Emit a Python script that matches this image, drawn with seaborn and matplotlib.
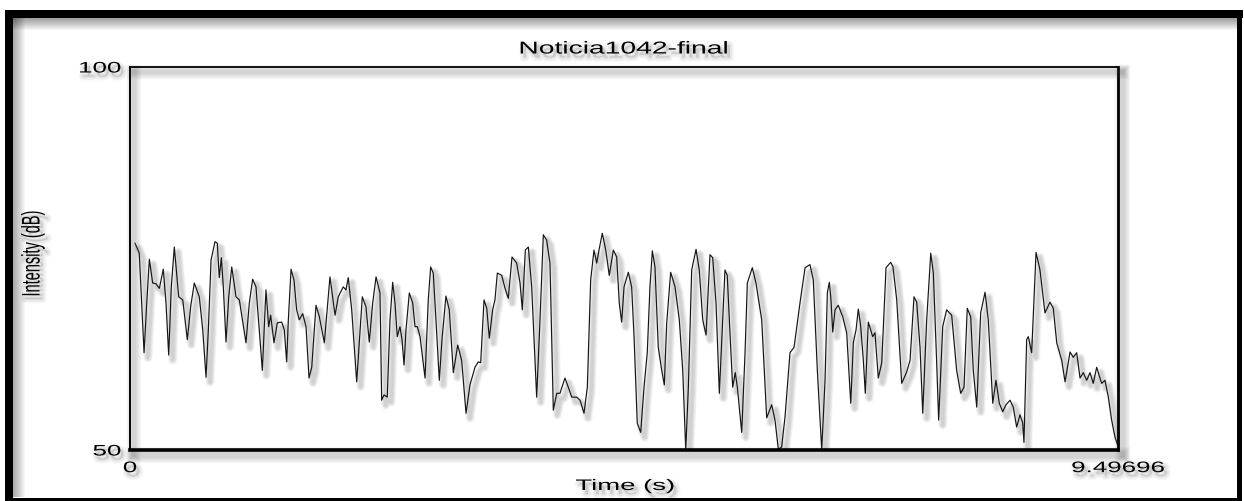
import matplotlib
matplotlib.use("Agg")
import matplotlib.pyplot as plt
import seaborn as sns
from matplotlib.patches import Rectangle
from matplotlib.patheffects import AbstractPathEffect
from matplotlib.transforms import Affine2D

# Intensity contour of the recording
time_s = [
    0.048, 0.089, 0.135, 0.161, 0.186, 0.218, 0.250, 0.282, 0.320, 0.346,
    0.372, 0.397, 0.426, 0.468, 0.507, 0.551, 0.583, 0.618, 0.666, 0.699,
    0.731, 0.753, 0.779, 0.817, 0.839, 0.858, 0.878, 0.897, 0.923, 0.949,
    0.978, 1.019, 1.051, 1.115, 1.147, 1.179, 1.211, 1.233, 1.272, 1.307,
    1.333, 1.352, 1.384, 1.416, 1.458, 1.483, 1.506, 1.522, 1.548, 1.576,
    1.602, 1.627, 1.660, 1.692, 1.721, 1.747, 1.788, 1.820, 1.868, 1.922,
    1.971, 2.002, 2.050, 2.076, 2.098, 2.131, 2.179, 2.233, 2.268, 2.300,
    2.333, 2.365, 2.403, 2.419, 2.442, 2.473, 2.499, 2.525, 2.547, 2.569,
    2.595, 2.615, 2.634, 2.653, 2.685, 2.717, 2.740, 2.762, 2.788, 2.836,
    2.867, 2.890, 2.915, 2.941, 2.973, 2.999, 3.037, 3.069, 3.108, 3.150,
    3.188, 3.230, 3.268, 3.316, 3.348, 3.371, 3.403, 3.429, 3.454, 3.486,
    3.508, 3.531, 3.573, 3.605, 3.636, 3.672, 3.717, 3.749, 3.771, 3.800,
    3.829, 3.861, 3.909, 3.941, 3.973, 4.005, 4.037, 4.069, 4.102, 4.133,
    4.181, 4.213, 4.246, 4.294, 4.326, 4.364, 4.396, 4.428, 4.460, 4.486,
    4.508, 4.540, 4.573, 4.607, 4.646, 4.678, 4.703, 4.726, 4.749, 4.790,
    4.822, 4.845, 4.876, 4.909, 4.941, 4.972, 4.998, 5.021, 5.046, 5.078,
    5.111, 5.136, 5.159, 5.197, 5.239, 5.280, 5.313, 5.342, 5.367, 5.399,
    5.441, 5.472, 5.505, 5.537, 5.575, 5.601, 5.633, 5.665, 5.697, 5.719,
    5.741, 5.767, 5.793, 5.818, 5.838, 5.880, 5.912, 5.934, 5.982, 6.017,
    6.072, 6.120, 6.168, 6.200, 6.232, 6.264, 6.296, 6.344, 6.383, 6.440,
    6.489, 6.536, 6.568, 6.607, 6.649, 6.681, 6.703, 6.722, 6.738, 6.755,
    6.777, 6.808, 6.851, 6.889, 6.928, 6.953, 6.979, 7.001, 7.024, 7.049,
    7.068, 7.097, 7.139, 7.161, 7.193, 7.226, 7.267, 7.312, 7.334, 7.370,
    7.418, 7.466, 7.498, 7.536, 7.562, 7.594, 7.620, 7.658, 7.697, 7.722,
    7.754, 7.773, 7.812, 7.850, 7.898, 7.946, 7.985, 8.017, 8.048, 8.081,
    8.106, 8.139, 8.177, 8.219, 8.250, 8.293, 8.324, 8.356, 8.389, 8.420,
    8.459, 8.490, 8.523, 8.555, 8.581, 8.593, 8.619, 8.635, 8.667, 8.709,
    8.747, 8.795, 8.843, 8.875, 8.908, 8.956, 8.988, 9.036, 9.067, 9.100,
    9.132, 9.163, 9.196, 9.228, 9.259, 9.292, 9.314, 9.340, 9.372, 9.404,
    9.436, 9.468, 9.492,
]
intensity_db = [
    77.0, 75.7, 62.7, 69.2, 74.9, 71.8, 71.7, 71.1, 73.6, 69.2,
    62.4, 71.3, 76.5, 70.0, 69.6, 64.4, 68.7, 71.8, 70.0, 65.7,
    59.5, 65.7, 74.8, 77.2, 77.0, 72.5, 75.1, 71.3, 64.1, 70.0,
    73.9, 70.0, 69.6, 64.0, 69.2, 72.3, 71.3, 67.4, 60.4, 70.9,
    66.1, 67.6, 64.0, 66.6, 66.7, 65.7, 61.5, 67.0, 73.6, 72.2,
    68.3, 67.0, 67.8, 66.1, 59.4, 60.8, 68.9, 67.4, 64.0, 72.6,
    67.6, 70.0, 71.3, 70.9, 72.5, 68.3, 58.9, 70.0, 68.7, 64.1,
    69.2, 72.6, 70.5, 56.5, 57.2, 56.9, 67.0, 71.9, 69.2, 64.8,
    66.1, 64.4, 61.1, 65.7, 70.5, 69.2, 66.1, 66.1, 64.8, 59.4,
    69.6, 73.9, 73.1, 67.0, 59.1, 64.4, 70.1, 68.3, 60.1, 63.7,
    61.7, 54.8, 58.5, 60.8, 61.5, 61.4, 69.6, 68.5, 64.6, 68.3,
    69.6, 73.1, 72.8, 71.1, 69.8, 75.2, 74.4, 71.8, 68.3, 76.1,
    76.5, 71.3, 56.9, 67.0, 78.1, 77.4, 74.4, 55.2, 57.4, 57.4,
    59.4, 58.2, 56.9, 56.9, 56.5, 54.8, 58.2, 72.2, 76.1, 74.4,
    76.1, 78.3, 76.1, 72.8, 76.1, 75.2, 69.2, 66.7, 71.3, 73.2,
    71.3, 64.8, 53.5, 52.3, 58.2, 62.7, 71.3, 76.0, 73.9, 63.4,
    60.4, 58.5, 66.6, 73.2, 71.3, 67.0, 60.4, 50.0, 58.2, 73.5,
    76.2, 73.5, 67.0, 65.0, 75.5, 75.1, 69.2, 57.4, 67.0, 73.5,
    72.8, 65.3, 58.2, 60.1, 58.2, 52.3, 62.7, 71.8, 73.8, 71.8,
    67.0, 54.2, 55.9, 53.9, 50.1, 50.4, 54.3, 62.7, 63.4, 69.2,
    73.8, 74.2, 72.2, 60.4, 50.0, 59.1, 70.5, 71.9, 69.6, 65.4,
    68.3, 68.9, 67.4, 65.3, 56.1, 64.0, 65.7, 68.4, 66.1, 61.7,
    57.4, 66.7, 64.8, 65.3, 59.4, 61.4, 73.8, 74.5, 73.9, 69.6,
    58.7, 60.2, 61.7, 70.0, 69.3, 63.4, 54.8, 67.0, 75.7, 73.1,
    61.4, 53.9, 66.1, 68.3, 67.6, 60.4, 57.4, 58.2, 68.5, 67.4,
    60.4, 55.6, 67.9, 70.6, 67.0, 56.1, 59.1, 56.1, 55.0, 55.9,
    56.5, 55.6, 53.0, 54.6, 53.5, 51.0, 64.4, 64.8, 62.7, 75.8,
    73.5, 67.9, 69.3, 68.5, 64.0, 61.7, 58.9, 62.8, 62.1, 62.7,
    59.4, 60.1, 59.1, 60.1, 58.7, 60.8, 59.8, 58.7, 59.1, 56.9,
    53.9, 51.7, 50.7,
]

x_ticks = [0, 9.49696]
x_tick_labels = ["0", "9.49696"]
y_ticks = [50, 100]
y_tick_labels = ["50", "100"]
title_text = "Noticia1042-final"
x_label = "Time (s)"
y_label = "Intensity (dB)"

W, H = 1244, 501


class SoftShadow(AbstractPathEffect):
    """Blurred drop shadow; optionally widens the drawn path horizontally."""

    def __init__(self, offset=(4, -5), layers=6, spread=0.9, alpha=0.045,
                 color=(0.3, 0.3, 0.3), stretch=1.0, anchor="center"):
        super().__init__()
        self.offset = offset
        self.layers = layers
        self.spread = spread
        self.alpha = alpha
        self.color = color
        self.stretch = stretch
        self.anchor = anchor

    def draw_path(self, renderer, gc, tpath, affine, rgbFace=None):
        if self.stretch != 1.0:
            ext = tpath.get_extents(affine)
            if self.anchor == "left":
                ax0 = ext.x0
            elif self.anchor == "right":
                ax0 = ext.x1
            else:
                ax0 = 0.5 * (ext.x0 + ext.x1)
            affine = affine + Affine2D().translate(-ax0, 0).scale(self.stretch, 1).translate(ax0, 0)
        base_lw = gc.get_linewidth()
        shifted = affine + Affine2D().translate(self.offset[0], self.offset[1])
        for i in range(self.layers):
            gc0 = renderer.new_gc()
            gc0.copy_properties(gc)
            gc0.set_foreground(self.color)
            gc0.set_alpha(self.alpha)
            gc0.set_linewidth(base_lw + (i + 1) * self.spread)
            face = self.color if rgbFace is not None else None
            renderer.draw_path(gc0, tpath, shifted, face)
            gc0.restore()
        renderer.draw_path(gc, tpath, affine, rgbFace)


def text_fx(stretch, anchor="center"):
    return [SoftShadow(offset=(3, -4), layers=6, spread=1.0, alpha=0.03,
                       color=(0.4, 0.4, 0.4), stretch=stretch, anchor=anchor)]


sns.set_theme(style="white")
plt.rcParams["font.family"] = ["Liberation Sans", "DejaVu Sans"]

fig = plt.figure(figsize=(W / 100, H / 100), dpi=100)
fig.patch.set_facecolor("white")
ax = fig.add_axes([130 / W, 51 / H, 988 / W, 383 / H])
ax.set_facecolor("white")

sns.lineplot(x=time_s, y=intensity_db, ax=ax, color="#151515", linewidth=0.85,
             sort=False, estimator=None)
ax.lines[0].set_path_effects([SoftShadow(offset=(4, -5), layers=5, spread=1.1, alpha=0.055)])

ax.set_xlim(0, 9.49696)
ax.set_ylim(50, 100)
ax.set_xticks(x_ticks)
ax.set_xticklabels(x_tick_labels)
ax.set_yticks(y_ticks)
ax.set_yticklabels(y_tick_labels)
ax.grid(False)

ax.tick_params(axis="y", direction="out", length=6, width=1.0, pad=0.5,
               labelsize=11, colors="black")
ax.tick_params(axis="x", direction="inout", length=8, width=1.0, pad=4,
               labelsize=11, colors="black")

for side, lw in (("left", 1.4), ("top", 1.3), ("right", 2.0), ("bottom", 2.6)):
    sp = ax.spines[side]
    sp.set_visible(True)
    sp.set_color("black")
    sp.set_linewidth(lw)
    sp.set_path_effects([SoftShadow(offset=(4, -5), layers=6, spread=1.5, alpha=0.045)])

ax.set_title(title_text, fontsize=12.4, color="black", y=1.047, va="center", pad=0)
ax.title.set_path_effects(text_fx(1.64))

ax.set_xlabel(x_label, fontsize=11, color="black")
ax.xaxis.label.set_verticalalignment("center")
ax.xaxis.set_label_coords(0.501, -0.094)
ax.xaxis.label.set_path_effects(text_fx(1.8))

ax.set_ylabel(y_label, fontsize=10.5, color="black")
ax.yaxis.label.set_verticalalignment("center")
ax.yaxis.set_label_coords(-0.0985, 0.514)
ax.yaxis.label.set_path_effects(text_fx(1.75))

fig.canvas.draw()
for lab in ax.get_xticklabels():
    lab.set_path_effects(text_fx(1.7))
for lab in ax.get_yticklabels():
    lab.set_path_effects(text_fx(1.7, anchor="right"))


def px_rect(x0, y0, x1, y1, **kw):
    r = Rectangle((x0 / W, 1 - y1 / H), (x1 - x0) / W, (y1 - y0) / H,
                  transform=fig.transFigure, linewidth=0, **kw)
    fig.add_artist(r)
    return r


# soft shading inside the black frame
for k in range(1, 13):
    px_rect(13, 18, 1237, 18 + k, facecolor="black", alpha=0.035)
    px_rect(13, 18, 13 + k, 497, facecolor="black", alpha=0.03)

# black frame
px_rect(5, 10, 1243, 18, facecolor="black")
px_rect(5, 10, 13, 501, facecolor="black")
px_rect(1237, 10, 1242, 501, facecolor="black")
px_rect(5, 497.5, 1242, 501, facecolor="black")

fig.savefig("out.png", dpi=100, facecolor="white")
